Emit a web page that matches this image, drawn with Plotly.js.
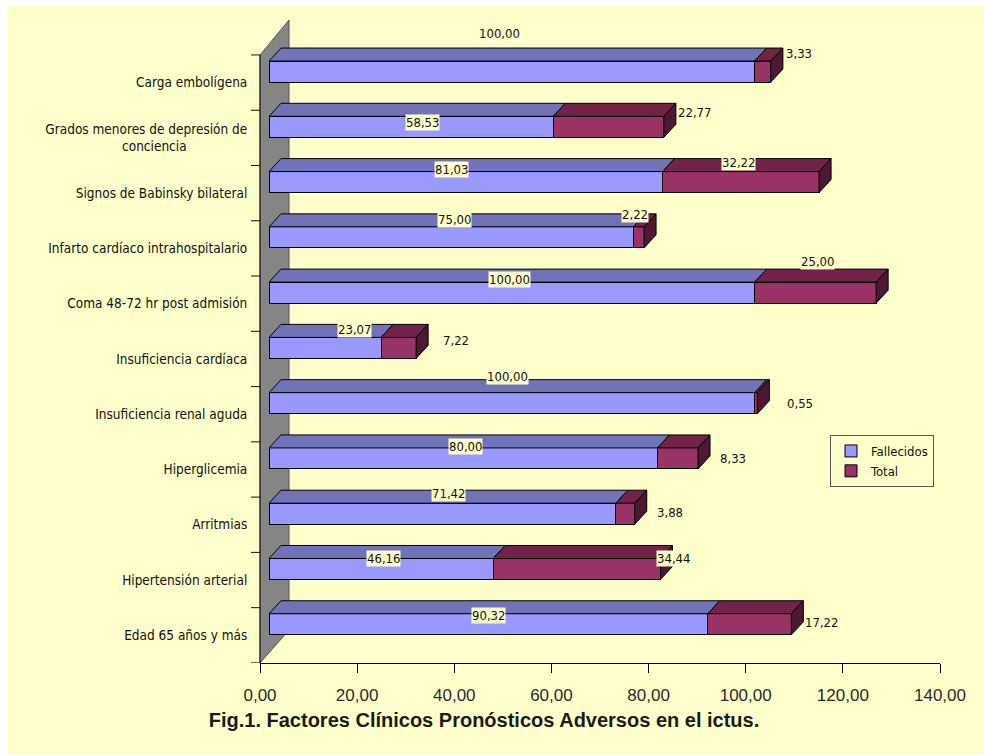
<!DOCTYPE html>
<html><head><meta charset="utf-8">
<script src="https://cdn.plot.ly/plotly-3.0.1.min.js"></script>
<style>html,body{margin:0;padding:0;background:#fff;} #chart{width:984px;height:755px;}</style>
</head><body><div id="chart"></div>
<script>
// ---------------- data ----------------
const categories = [
  "Carga embolígena",
  "Grados menores de depresión de conciencia",
  "Signos de Babinsky bilateral",
  "Infarto cardíaco intrahospitalario",
  "Coma 48-72 hr post admisión",
  "Insuficiencia cardíaca",
  "Insuficiencia renal aguda",
  "Hiperglicemia",
  "Arritmias",
  "Hipertensión arterial",
  "Edad 65 años y más"
];
const fallecidos = [100.00, 58.53, 81.03, 75.00, 100.00, 23.07, 100.00, 80.00, 71.42, 46.16, 90.32];
const total      = [3.33, 22.77, 32.22, 2.22, 25.00, 7.22, 0.55, 8.33, 3.88, 34.44, 17.22];
const seriesNames = ["Fallecidos", "Total"];
const xTicks = [0, 20, 40, 60, 80, 100, 120, 140];
const titleText = "Fig.1. Factores Clínicos Pronósticos Adversos en el ictus.";

// ---------------- layout constants (pixels) ----------------
const W = 984, H = 755;
const AX_L = 260, AX_R = 940;       // value axis
const BAR_SHIFT = 9;                 // 3D front plane offset
const Y_TOP = 40, Y_BOT = 663;
const ROW0 = 82.6, ROWPX = 55.27;    // category centre pixel / pitch
const XMAX = 140;
const PXU = (AX_R - AX_L) / XMAX;
const DEPTH_X = 12, DEPTH_Y = 13;    // 3D depth in px
const BAR_W = 0.38, BAR_OFF = -0.39;
const BG = "#FFFFCC";
const C_BLUE = "#9999FF", C_BLUE_TOP = "#7272B9";
const C_RED = "#993366", C_RED_TOP = "#722349", C_RED_SIDE = "#4E1833";
const NARROW = "'Liberation Sans Narrow', 'DejaVu Sans Condensed', sans-serif";
const SANS = "'Liberation Sans', Arial, sans-serif";

// label nudges (screen px: dx right, dy down)
const fLabelShift = [[-12,-28],[11,6],[-14,-2],[3,-7],[-2,-3],[29,-8],[-4,-16],[2,-1],[6,-10],[2,0],[0,2]];
const tLabelShift = [[28,-18],[31,-14],[-81,-20],[-9,-23],[-59,-31],[40,-7],[43,0],[35,0],[35,-1],[13,-10],[30,-2]];

const px = v => v / W, py = v => 1 - v / H;
const fmt = v => v.toFixed(2).replace(".", ",");
const rows = categories.map((c, i) => i);
const yRange = [(Y_BOT - ROW0) / ROWPX, (Y_TOP - ROW0) / ROWPX];

// long labels wrap in two centred lines (invisible padding keeps line 2 centred)
const tickText = categories.map(c => {
  if (c.length > 35) {
    const words = c.split(" ");
    const last = words.pop();
    const pad = "_".repeat(Math.round((words.join(" ").length - last.length) / 2 * 0.95));
    return words.join(" ") + "<br>" + last + "<span style='color:rgba(0,0,0,0)'>" + pad + "</span>";
  }
  return c;
});

const traces = [
  { type: "bar", orientation: "h", name: seriesNames[0], x: fallecidos, y: rows,
    xaxis: "x2", yaxis: "y", width: BAR_W, offset: BAR_OFF,
    marker: { color: C_BLUE, line: { color: "#000", width: 1 } }, hoverinfo: "x+name" },
  { type: "bar", orientation: "h", name: seriesNames[1], x: total, y: rows,
    xaxis: "x2", yaxis: "y", width: BAR_W, offset: BAR_OFF,
    marker: { color: C_RED, line: { color: "#000", width: 1 } }, hoverinfo: "x+name" },
  // empty holder so the value-axis subplot (ticks & labels) is drawn
  { type: "scatter", mode: "markers", x: [], y: [], xaxis: "x", yaxis: "y",
    showlegend: false, hoverinfo: "skip" }
];

// 3D faces computed from the data
const dxu = DEPTH_X / PXU, dyu = DEPTH_Y / ROWPX;
const shapes = [];
shapes.push({ type: "rect", xref: "paper", yref: "paper", x0: px(8), x1: 1, y0: 0, y1: py(6),
  fillcolor: BG, line: { width: 0 }, layer: "below" });
shapes.push({ type: "path", xref: "paper", yref: "paper", layer: "below",
  path: `M${px(AX_L)},${py(55)} L${px(289)},${py(20)} L${px(289)},${py(630)} L${px(AX_L)},${py(Y_BOT)} Z`,
  fillcolor: "#858585", line: { color: "#555", width: 1 } });
shapes.push({ type: "line", xref: "paper", yref: "paper", layer: "below",
  x0: px(AX_L), x1: px(AX_L), y0: py(55), y1: py(Y_BOT), line: { color: "#111", width: 1 } });
// category boundary tick marks on the category axis
[-0.5].concat(rows.map(i => i + 0.5)).forEach(b => {
  shapes.push({ type: "line", xref: "paper", yref: "y", layer: "above",
    x0: px(AX_L - 9), x1: px(AX_L), y0: b, y1: b, line: { color: "#111", width: 1 } });
});

rows.forEach(i => {
  const yt = i + BAR_OFF, yb = yt + BAR_W;
  const segs = [[0, fallecidos[i], C_BLUE_TOP], [fallecidos[i], fallecidos[i] + total[i], C_RED_TOP]];
  segs.forEach(([a, b, col]) => {
    shapes.push({ type: "path", xref: "x2", yref: "y", layer: "above",
      path: `M${a},${yt} L${b},${yt} L${b + dxu},${yt - dyu} L${a + dxu},${yt - dyu} Z`,
      fillcolor: col, line: { color: "#000", width: 1 } });
  });
  const e = fallecidos[i] + total[i];
  shapes.push({ type: "path", xref: "x2", yref: "y", layer: "above",
    path: `M${e},${yt} L${e + dxu},${yt - dyu} L${e + dxu},${yb - dyu} L${e},${yb} Z`,
    fillcolor: C_RED_SIDE, line: { color: "#000", width: 1 } });
});

const annFont = { family: NARROW, size: 13, color: "#111" };
const annotations = [];
rows.forEach(i => {
  annotations.push({ xref: "x2", yref: "y", x: fallecidos[i] / 2, y: i + BAR_OFF,
    text: fmt(fallecidos[i]), showarrow: false, font: annFont, bgcolor: BG, borderpad: 0,
    xshift: fLabelShift[i][0], yshift: -fLabelShift[i][1] });
  annotations.push({ xref: "x2", yref: "y", x: fallecidos[i] + total[i], y: i + BAR_OFF + BAR_W / 2,
    text: fmt(total[i]), showarrow: false, font: annFont, bgcolor: BG, borderpad: 0,
    xshift: tLabelShift[i][0], yshift: -tLabelShift[i][1] });
});

const layout = {
  width: W, height: H, margin: { l: 0, r: 0, t: 0, b: 0 },
  paper_bgcolor: "#ffffff", plot_bgcolor: "rgba(0,0,0,0)",
  separators: ",.",
  barmode: "stack", showlegend: true,
  title: { text: "<b>" + titleText + "</b>", xref: "container", yref: "container",
    x: 484 / W, xanchor: "center", y: 1 - 720 / H, yanchor: "middle",
    font: { family: SANS, size: 20, color: "#1a1a1a" } },
  xaxis: { domain: [px(AX_L), px(AX_R)], range: [0, XMAX], anchor: "y",
    tickmode: "array", tickvals: xTicks, tickformat: ".2f",
    ticks: "outside", ticklen: 9, tickcolor: "#000", showline: true, linecolor: "#000", linewidth: 1,
    showgrid: false, zeroline: false, ticklabelstandoff: 8,
    tickfont: { family: SANS, size: 17, color: "#2a2a2a" } },
  xaxis2: { domain: [px(AX_L + BAR_SHIFT), px(AX_R + BAR_SHIFT)], range: [0, XMAX], anchor: "y",
    visible: false, showgrid: false, zeroline: false },
  yaxis: { domain: [1 - Y_BOT / H, 1 - Y_TOP / H], range: yRange, anchor: "x",
    tickmode: "array", tickvals: rows, ticktext: tickText,
    ticks: "outside", ticklen: 9, tickcolor: "rgba(0,0,0,0)",
    showline: false, showgrid: false, zeroline: false,
    tickfont: { family: NARROW, size: 13.5, color: "#111" } },
  legend: { x: 830 / W, y: 1 - 435 / H, xanchor: "left", yanchor: "top",
    bgcolor: "rgba(0,0,0,0)", bordercolor: "#555", borderwidth: 1,
    font: { family: NARROW, size: 13, color: "#111" }, traceorder: "normal",
    itemwidth: 30, tracegroupgap: 0 },
  shapes: shapes, annotations: annotations
};

Plotly.newPlot("chart", traces, layout, { displayModeBar: false, staticPlot: true });
</script>
</body></html>
